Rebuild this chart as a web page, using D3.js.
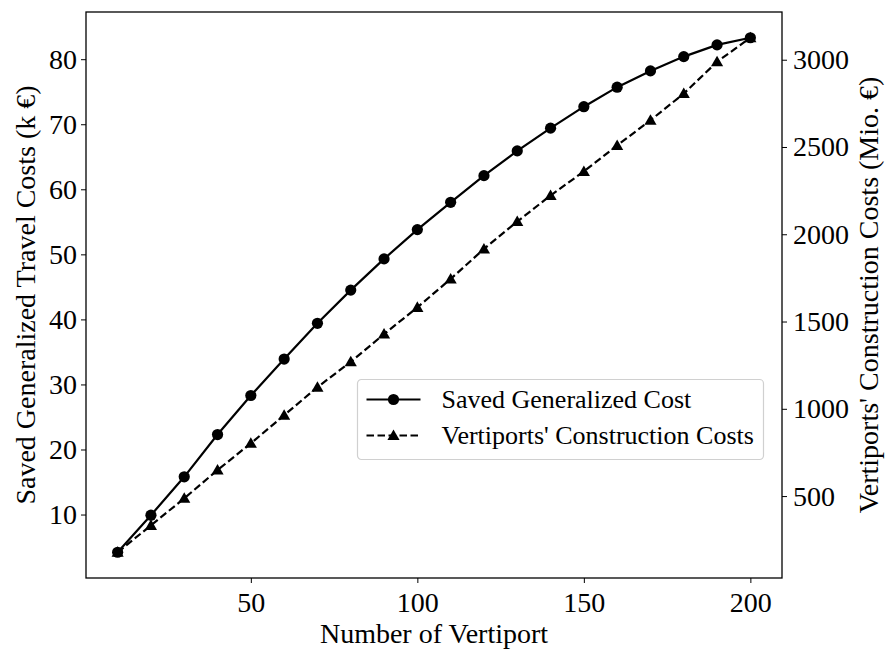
<!DOCTYPE html>
<html>
<head>
<meta charset="utf-8">
<script src="https://cdn.jsdelivr.net/npm/d3@7"></script>
<style>
  body { margin: 0; background: #fff; }
  svg, svg text { font-family: "Liberation Serif", "Times New Roman", "DejaVu Serif", serif !important; fill: #000; }
</style>
</head>
<body>
<script>

// data
var vertiports = [10, 20, 30, 40, 50, 60, 70, 80, 90, 100, 110, 120, 130, 140, 150, 160, 170, 180, 190, 200];
var savedCost = [4.2, 9.9, 15.8, 22.3, 28.3, 33.9, 39.4, 44.5, 49.3, 53.8, 58.0, 62.1, 65.9, 69.4, 72.7, 75.7, 78.2, 80.4, 82.2, 83.3];
var constructionCost = [178, 332, 487, 649, 802, 963, 1124, 1269, 1428, 1581, 1744, 1916, 2073, 2222, 2360, 2509, 2653, 2806, 2988, 3126];

var xTicks = [50, 100, 150, 200];
var leftTicks = [10, 20, 30, 40, 50, 60, 70, 80];
var rightTicks = [500, 1000, 1500, 2000, 2500, 3000];

var seriesNames = ["Saved Generalized Cost", "Vertiports' Construction Costs"];

var serif = '"Liberation Serif", "Times New Roman", "DejaVu Serif", serif';

var margin = {top: 12, right: 103, bottom: 72, left: 86};
var width = 885 - margin.left - margin.right;
var height = 650 - margin.top - margin.bottom;

// matplotlib style 5% padding around the data
function padded(values) {
    var lo = d3.min(values), hi = d3.max(values), pad = (hi - lo) * 0.05;
    return [lo - pad, hi + pad];
}

var xScale = d3.scaleLinear().domain(padded(vertiports)).range([0, width]);
var yLeft = d3.scaleLinear().domain(padded(savedCost)).range([height, 0]);
var yRight = d3.scaleLinear().domain(padded(constructionCost)).range([height, 0]);

var svg = d3.select("body").append("svg")
    .attr("width", 885)
    .attr("height", 650)
    .attr("font-family", serif)
    .append("g")
    .attr("transform", "translate(" + margin.left + "," + margin.top + ")");

// axes
var xAxis = d3.axisBottom(xScale).tickValues(xTicks).tickSize(5).tickPadding(9).tickSizeOuter(0).tickFormat(d3.format("d"));
var leftAxis = d3.axisLeft(yLeft).tickValues(leftTicks).tickSize(5).tickPadding(4).tickSizeOuter(0).tickFormat(d3.format("d"));
var rightAxis = d3.axisRight(yRight).tickValues(rightTicks).tickSize(5).tickPadding(6).tickSizeOuter(0).tickFormat(d3.format("d"));

function styleAxis(g) {
    g.attr("font-family", serif);
    g.select(".domain").remove();
    g.selectAll(".tick line").attr("stroke", "#000").attr("stroke-width", 1);
    g.selectAll(".tick text").style("font-size", "28px").style("font-family", serif);
}

svg.append("g").attr("transform", "translate(0," + height + ")").call(xAxis).call(styleAxis);
svg.append("g").call(leftAxis).call(styleAxis);
svg.append("g").attr("transform", "translate(" + width + ",0)").call(rightAxis).call(styleAxis);

// frame
svg.append("rect")
    .attr("width", width)
    .attr("height", height)
    .attr("fill", "none")
    .attr("stroke", "#000")
    .attr("stroke-width", 1.3);

// axis titles
svg.append("text")
    .attr("x", width / 2)
    .attr("y", height + 65)
    .attr("text-anchor", "middle")
    .style("font-size", "28px")
    .style("font-family", serif)
    .text("Number of Vertiport");

svg.append("text")
    .attr("transform", "translate(" + (35 - margin.left) + "," + (height / 2) + ") rotate(-90)")
    .attr("text-anchor", "middle")
    .style("font-size", "28px")
    .style("font-family", serif)
    .text("Saved Generalized Travel Costs (k €)");

svg.append("text")
    .attr("transform", "translate(" + (878 - margin.left) + "," + (height / 2) + ") rotate(-90)")
    .attr("text-anchor", "middle")
    .style("font-size", "28px")
    .style("font-family", serif)
    .text("Vertiports' Construction Costs (Mio. €)");

// lines
var savedLine = d3.line()
    .x(function(d, i) { return xScale(vertiports[i]); })
    .y(function(d) { return yLeft(d); });

var constrLine = d3.line()
    .x(function(d, i) { return xScale(vertiports[i]); })
    .y(function(d) { return yRight(d); });

var triangle = d3.symbol().type(d3.symbolTriangle).size(64);

svg.append("path")
    .datum(savedCost)
    .attr("d", savedLine)
    .attr("fill", "none")
    .attr("stroke", "#000")
    .attr("stroke-width", 2.2);

svg.selectAll(".dot")
    .data(savedCost)
    .enter().append("circle")
    .attr("class", "dot")
    .attr("cx", function(d, i) { return xScale(vertiports[i]); })
    .attr("cy", function(d) { return yLeft(d); })
    .attr("r", 5.6)
    .attr("fill", "#000");

svg.append("path")
    .datum(constructionCost)
    .attr("d", constrLine)
    .attr("fill", "none")
    .attr("stroke", "#000")
    .attr("stroke-width", 2.2)
    .attr("stroke-dasharray", "7.5,3.5");

svg.selectAll(".tri")
    .data(constructionCost)
    .enter().append("path")
    .attr("class", "tri")
    .attr("d", triangle)
    .attr("transform", function(d, i) { return "translate(" + xScale(vertiports[i]) + "," + (yRight(d) + 1) + ")"; })
    .attr("fill", "#000");

// legend
var legend = svg.append("g")
    .attr("transform", "translate(" + (357.5 - margin.left) + "," + (379.5 - margin.top) + ")");

legend.append("rect")
    .attr("width", 406)
    .attr("height", 80)
    .attr("rx", 4)
    .attr("fill", "#fff")
    .attr("fill-opacity", 0.8)
    .attr("stroke", "#d0d0d0")
    .attr("stroke-width", 1.2);

var rowY = [20, 56];

legend.append("line")
    .attr("x1", 9).attr("x2", 63)
    .attr("y1", rowY[0]).attr("y2", rowY[0])
    .attr("stroke", "#000").attr("stroke-width", 2.2);
legend.append("circle")
    .attr("cx", 36).attr("cy", rowY[0]).attr("r", 5.6).attr("fill", "#000");

legend.append("line")
    .attr("x1", 9).attr("x2", 63)
    .attr("y1", rowY[1]).attr("y2", rowY[1])
    .attr("stroke", "#000").attr("stroke-width", 2.2)
    .attr("stroke-dasharray", "7.5,3.5");
legend.append("path")
    .attr("d", triangle)
    .attr("transform", "translate(36," + (rowY[1] + 1) + ")")
    .attr("fill", "#000");

legend.selectAll(".label")
    .data(seriesNames)
    .enter().append("text")
    .attr("class", "label")
    .attr("x", 84)
    .attr("y", function(d, i) { return rowY[i]; })
    .attr("dy", "0.33em")
    .style("font-size", "26px")
    .style("font-family", serif)
    .text(function(d) { return d; });

</script>
</body>
</html>
